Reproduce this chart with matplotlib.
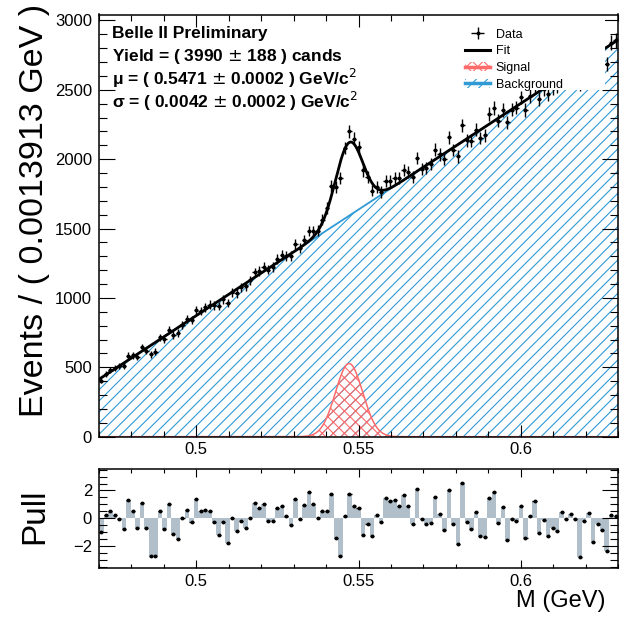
import numpy as np
import matplotlib.pyplot as plt
from matplotlib.patches import Rectangle, Patch
from matplotlib.lines import Line2D
from matplotlib.ticker import MultipleLocator, FuncFormatter

plt.rcParams['font.family'] = ['Liberation Sans', 'DejaVu Sans']
plt.rcParams['hatch.linewidth'] = 0.8

# --- binning / fit result -------------------------------------------------
x_lo, x_hi, n_bins = 0.47, 0.63, 115
bin_w = (x_hi - x_lo) / n_bins          # 0.0013913 GeV

sig_yield = 3990
sig_mu = 0.5471
sig_sigma = 0.0042
bg_lo = 414.0     # background level at M = 0.47
bg_hi = 2860.0    # background level at M = 0.63

data_counts = [405, 451, 479, 494, 509, 513, 584, 587, 578, 644,
               619, 593, 613, 716, 701, 772, 733, 746, 808, 847,
               842, 912, 908, 932, 952, 947, 941, 990, 964, 1041,
               1034, 1078, 1083, 1127, 1185, 1194, 1226, 1205, 1224, 1281,
               1308, 1304, 1301, 1390, 1359, 1419, 1482, 1480, 1484, 1564,
               1649, 1809, 1801, 1865, 2082, 2202, 2149, 2086, 1919, 1873,
               1774, 1800, 1765, 1841, 1844, 1866, 1866, 1923, 1909, 1874,
               2009, 1932, 1936, 1963, 2069, 2034, 2002, 2158, 2065, 2020,
               2246, 2135, 2132, 2211, 2153, 2171, 2325, 2368, 2279, 2356,
               2265, 2357, 2372, 2445, 2356, 2455, 2529, 2435, 2503, 2468,
               2516, 2525, 2619, 2613, 2654, 2655, 2539, 2691, 2742, 2655,
               2741, 2739, 2684, 2839, 2856]

# pull per bin
pulls = [-1.0, 0.24, 0.55, 0.24, -0.05, -0.8, 1.33, 0.55, -0.7, 1.1,
         -0.74, -2.7, -2.7, 0.55, -0.8, 1.02, -1.17, -1.48, 0.03, 0.62,
         -0.29, 1.36, 0.5, 0.6, 0.55, -0.29, -1.19, -0.29, -1.8, 0.0,
         -0.9, -0.19, -0.69, 0.02, 1.07, 0.71, 1.02, -0.19, -0.24, 0.76,
         0.9, 0.19, -0.48, 1.36, -0.07, 0.93, 1.88, 1.0, 0.0, 0.5,
         0.52, 1.71, -1.43, -2.74, 0.12, 1.71, 0.85, 0.74, -1.19, -0.4,
         -1.29, 0.21, -0.29, 1.45, 1.21, 1.31, 0.86, 1.67, 0.86, -0.43,
         2.14, -0.07, -0.45, -0.33, 1.55, 0.31, -0.88, 2.05, -0.4, -1.88,
         2.52, -0.26, -0.79, 0.45, -1.26, -1.33, 1.48, 1.9, -0.36, 0.79,
         -1.55, -0.07, -0.19, 0.86, -1.4, 0.19, 1.24, -1.07, -0.12, -1.26,
         -0.71, -0.95, 0.48, -0.05, 0.33, -0.05, -2.79, -0.19, 0.38, -1.71,
         -0.45, -0.88, -2.38, 0.21, 0.12]

info_lines = ["Belle II Preliminary",
              "Yield = ( 3990 $\\pm$ 188 ) cands",
              "\u03bc = ( 0.5471 $\\pm$ 0.0002 ) GeV/c$^{2}$",
              "\u03c3 = ( 0.0042 $\\pm$ 0.0002 ) GeV/c$^{2}$"]

blue = '#2f9ad6'
red = '#ff6b6b'
pull_col = '#b0bfca'


def background(m):
    return bg_lo + (bg_hi - bg_lo) * (m - x_lo) / (x_hi - x_lo)


def signal(m):
    return sig_yield * bin_w / (sig_sigma * np.sqrt(2 * np.pi)) * np.exp(-0.5 * ((m - sig_mu) / sig_sigma) ** 2)


centers = x_lo + bin_w * (np.arange(n_bins) + 0.5)
counts = np.array(data_counts, dtype=float)
pulls = np.array(pulls)

xs = np.linspace(x_lo, x_hi, 1200)

fig = plt.figure(figsize=(6.21, 6.17), dpi=100)
ax = fig.add_axes([99 / 621, (617 - 436.7) / 617, 519 / 621, 422.2 / 617])
ax2 = fig.add_axes([99 / 621, (617 - 568) / 617, 519 / 621, 99 / 617])

# --- upper pad -------------------------------------------------------------
ax.fill_between(xs, 0, background(xs), facecolor='none', edgecolor=blue, hatch='///', linewidth=0, zorder=1)
ax.fill_between(xs, 0, signal(xs), facecolor='none', edgecolor=red, hatch='xxx', linewidth=0, zorder=1.1)
ax.plot(xs, background(xs), color=blue, lw=1.3, zorder=1.5)
ax.plot(xs, signal(xs), color=red, lw=1.1, zorder=1.5)
ax.plot(xs, background(xs) + signal(xs), color='black', lw=2.0, zorder=1.8)
ax.errorbar(centers, counts, yerr=np.sqrt(counts), xerr=bin_w / 2, fmt='o', ms=1.8,
            color='black', elinewidth=1.0, capsize=0, zorder=2.0)

# white box behind the legend (hides what is under it, like the ROOT TLegend)
ax.add_patch(Rectangle((0.676, 0.821), 0.299, 0.179, transform=ax.transAxes,
                       facecolor='white', edgecolor='none', zorder=2.3))

h_data = ax.errorbar([], [], yerr=[], xerr=[], fmt='o', ms=1.8, color='black', elinewidth=1.0)
h_fit = Line2D([], [], color='black', lw=2.2)
h_sig = (Patch(facecolor='none', edgecolor=red, hatch='xxx', lw=0), Line2D([], [], color=red, lw=2.5))
h_bkg = (Patch(facecolor='none', edgecolor=blue, hatch='///', lw=0), Line2D([], [], color=blue, lw=2.5))
leg = ax.legend([h_data, h_fit, h_sig, h_bkg], ['Data', 'Fit', 'Signal', 'Background'],
                loc='upper left', bbox_to_anchor=((465 - 99) / 519, (436.7 - 28.5) / 422.2),
                frameon=False, fontsize=9, borderpad=0, borderaxespad=0,
                handlelength=2.0, handletextpad=0.45, labelspacing=0.38)
leg.set_zorder(5)

ax.set_xlim(x_lo, x_hi)
ax.set_ylim(0, 3043)
ax.yaxis.set_major_locator(MultipleLocator(500))
ax.yaxis.set_minor_locator(MultipleLocator(100))

for a in (ax, ax2):
    a.xaxis.set_major_locator(MultipleLocator(0.05))
    a.xaxis.set_minor_locator(MultipleLocator(0.01))
    a.xaxis.set_major_formatter(FuncFormatter(lambda v, p: '%g' % round(v, 3)))
    a.tick_params(which='both', direction='in', top=True, right=True, width=0.8, labelsize=12)
    a.tick_params(axis='y', which='major', length=11.5, pad=5)
    a.tick_params(axis='y', which='minor', length=5.8)
    for s in a.spines.values():
        s.set_linewidth(1.1)

ax.tick_params(axis='x', which='major', length=8.6, pad=4)
ax.tick_params(axis='x', which='minor', length=4.3)
ax2.tick_params(axis='x', which='major', length=5.8, pad=4)
ax2.tick_params(axis='x', which='minor', length=2.9)

# --- pull pad ------------------------------------------------------------------
ax2.bar(centers, pulls, width=bin_w, color=pull_col, linewidth=0)
ax2.errorbar(centers, pulls, xerr=bin_w * 0.45, fmt='o', ms=1.8, color='black', elinewidth=1.0, capsize=0)
ax2.set_xlim(x_lo, x_hi)
ax2.set_ylim(-3.6, 3.55)
ax2.yaxis.set_major_locator(MultipleLocator(2))
ax2.yaxis.set_minor_locator(MultipleLocator(0.5))

# --- labels / text ------------------------------------------------------------
fig.text(35 / 621, 1 - 210 / 617, 'Events / ( 0.0013913 GeV )', rotation=90, fontsize=24.5,
         ha='center', va='center')
fig.text(35 / 621, 1 - 516 / 617, 'Pull', rotation=90, fontsize=24, ha='center', va='center')
fig.text(605 / 621, 1 - 601 / 617, 'M (GeV)', fontsize=17, ha='right', va='center')

for i, line in enumerate(info_lines):
    fig.text(112 / 621, 1 - (38 + 23.4 * i) / 617, line, fontsize=12.5, fontweight='bold',
             ha='left', va='baseline')

fig.savefig('out.png', dpi=100)
